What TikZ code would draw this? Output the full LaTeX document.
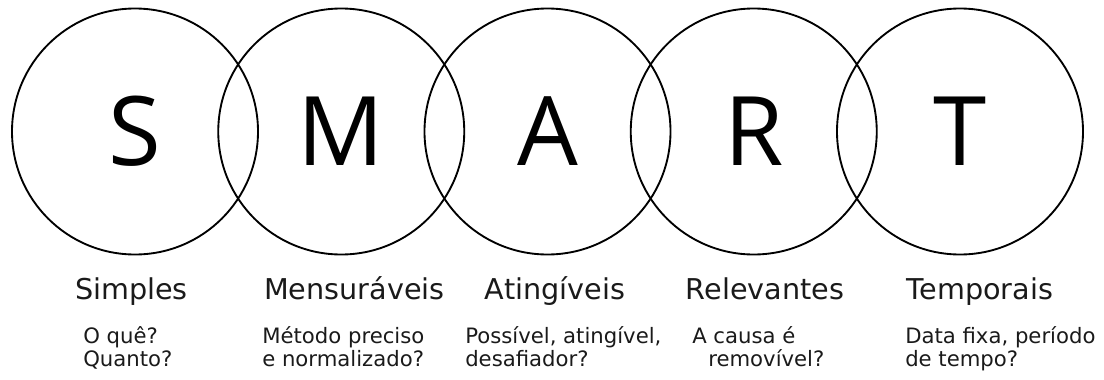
\documentclass[tikz,border=0pt]{standalone}
\usepackage{fontspec}
\setmainfont{DejaVu Sans}
\newfontfamily\letterfont{Open Sans}
\usepackage{xcolor}
\definecolor{ink}{HTML}{000000}
\definecolor{textgray}{HTML}{1A1A1A}
\tikzset{
  ring/.style={draw=ink,circle,line width=1.4pt,minimum size=184.5pt,
               inner sep=0pt,font=\letterfont\fontsize{72}{80}\selectfont},
  title/.style={anchor=base,inner sep=0pt,text=textgray,
                font=\fontsize{21.5}{26}\selectfont},
  note/.style={anchor=base west,inner sep=0pt,align=left,text=textgray,
               font=\fontsize{15.9}{17.25}\selectfont}
}
\begin{document}
\begin{tikzpicture}[x=0.75pt,y=-0.75pt]
    \path[use as bounding box] (0,0) rectangle (1104,379);
    % the five letters
    \node[ring] (ringS) at (135,131.5) {S};
    \node[ring] (ringM) at (341.25,131.5) {M};
    \node[ring] (ringA) at (547.5,131.5) {A};
    \node[ring] (ringR) at (753.75,131.5) {R};
    \node[ring] (ringT) at (960,131.5) {T};
    % titles
    \node[title] (titleS) at (131.5,299) {Simples};
    \node[title] (titleM) at (354.5,299) {Mensuráveis};
    \node[title] (titleA) at (555,299) {Atingíveis};
    \node[title] (titleR) at (765,299) {Relevantes};
    \node[title] (titleT) at (980,299) {Temporais};
    % questions (base = last line)
    \node[note] (noteS) at (83,366) {O quê?\\Quanto?};
    \node[note] (noteM) at (262,366) {Método preciso\\e normalizado?};
    \node[note] (noteA) at (465,366) {Possível, atingível,\\desafiador?};
    \node[note] (noteR) at (692,366) {A causa é\\\hspace*{12pt}removível?};
    \node[note] (noteT) at (905,366) {Data fixa, período\\de tempo?};
\end{tikzpicture}
\end{document}
